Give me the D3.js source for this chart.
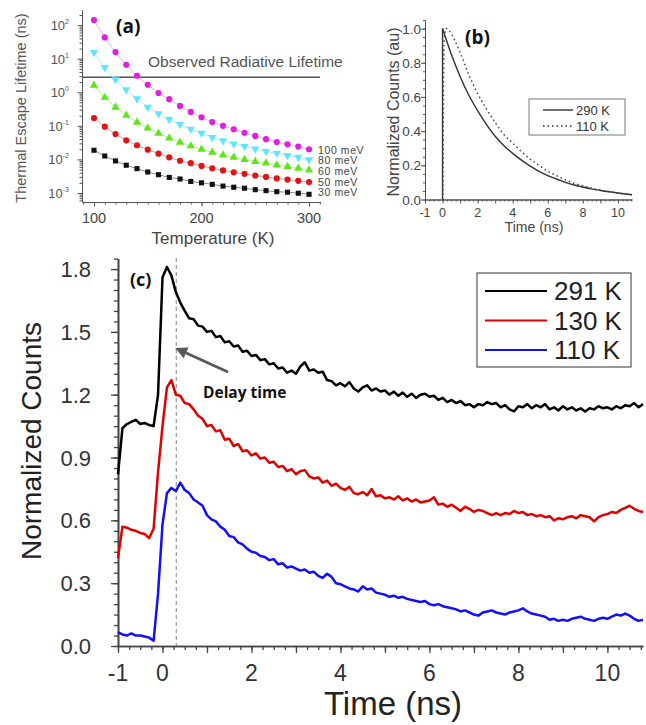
<!DOCTYPE html>
<html>
<head>
<meta charset="UTF-8">
<title>Thermal escape and decay traces</title>
<script src="https://d3js.org/d3.v7.min.js"></script>
<style>
  body { margin: 0; background: #fff; }
  svg text { font-family: "Liberation Sans", Arial, sans-serif; }
  .axis path, .axis line { stroke: #444; }
  .axis text { fill: #333; font-family: "Liberation Sans", Arial, sans-serif; }
  .axis-a path, .axis-a line, .axis-b path, .axis-b line { stroke: #555; }
  .tag { font-family: "Open Sans", "Liberation Sans", sans-serif; font-weight: 700; fill: #111; }
</style>
</head>
<body>
<svg id="fig" width="646" height="725"></svg>
<script>
// ---- panel (a): thermal escape lifetime (ns) vs temperature ----
const tempsK = [100, 110, 120, 130, 140, 150, 160, 170, 180, 190, 200, 210, 220, 230, 240, 250, 260, 270, 280, 290, 300];
const tau100 = [141, 43, 15.7, 6.6, 3.1, 1.67, 0.95, 0.62, 0.39, 0.26, 0.18, 0.13, 0.10, 0.079, 0.062, 0.050, 0.040, 0.033, 0.028, 0.024, 0.020];
const tau80 = [15.4, 5.5, 2.36, 1.19, 0.64, 0.36, 0.23, 0.156, 0.111, 0.080, 0.060, 0.045, 0.036, 0.029, 0.0245, 0.0204, 0.0174, 0.0152, 0.0132, 0.0116, 0.0098];
const tau60 = [1.6, 0.70, 0.356, 0.205, 0.127, 0.086, 0.060, 0.0434, 0.0322, 0.0251, 0.0199, 0.0163, 0.0135, 0.0115, 0.0098, 0.0086, 0.0077, 0.0068, 0.0061, 0.0054, 0.0048];
const tau50 = [0.171, 0.094, 0.057, 0.037, 0.0263, 0.0195, 0.0148, 0.0115, 0.0091, 0.0077, 0.0064, 0.0054, 0.0047, 0.0041, 0.0037, 0.0033, 0.0030, 0.0027, 0.0025, 0.0023, 0.0021];
const tau30 = [0.0187, 0.0126, 0.0090, 0.0067, 0.0053, 0.0042, 0.0035, 0.0029, 0.0026, 0.0022, 0.0020, 0.0018, 0.0016, 0.00148, 0.00138, 0.00125, 0.00117, 0.00109, 0.00105, 0.00098, 0.00091];
const energyLabels = ['100 meV', '80 meV', '60 meV', '50 meV', '30 meV'];
const radiativeLifetime = 2.8;
const decadeExps = [-3, -2, -1, 0, 1, 2];

// ---- panel (b): simulated normalized decays ----
const b290Time = [0, 0, 0.5, 1, 1.5, 2, 2.5, 3, 3.5, 4, 4.5, 5, 5.5, 6, 6.5, 7, 7.5, 8, 8.5, 9, 9.5, 10, 10.8];
const b290Val = [0, 1.0, 0.85, 0.72, 0.61, 0.52, 0.44, 0.37, 0.315, 0.27, 0.23, 0.195, 0.165, 0.14, 0.12, 0.10, 0.085, 0.073, 0.062, 0.053, 0.045, 0.038, 0.028];
const b110Time = [0.02, 0.08, 0.2, 0.4, 0.7, 1, 1.5, 2, 2.5, 3, 3.5, 4, 4.5, 5, 5.5, 6, 6.5, 7, 7.5, 8, 8.5, 9, 9.5, 10, 10.8];
const b110Val = [0, 0.9, 1.0, 0.985, 0.93, 0.86, 0.73, 0.62, 0.53, 0.45, 0.38, 0.33, 0.28, 0.235, 0.2, 0.165, 0.14, 0.115, 0.095, 0.08, 0.066, 0.055, 0.046, 0.038, 0.028];
const bLegend = ['290 K', '110 K'];

// ---- panel (c): measured traces, sampled every 0.1 ns from -1.0 ns ----
const timeNs = d3.range(119).map(i => +(-1 + i * 0.1).toFixed(1));
const counts291 = [
  0.82, 1.04, 1.06, 1.07, 1.08, 1.06, 1.065, 1.055, 1.05, 1.2,
  1.76, 1.81, 1.77, 1.69, 1.64, 1.60, 1.565, 1.56, 1.53, 1.525,
  1.50, 1.505, 1.475, 1.48, 1.45, 1.455, 1.43, 1.435, 1.405, 1.41,
  1.385, 1.39, 1.365, 1.37, 1.345, 1.35, 1.325, 1.33, 1.305, 1.315,
  1.30, 1.335, 1.355, 1.315, 1.32, 1.305, 1.31, 1.27, 1.265, 1.245,
  1.255, 1.24, 1.26, 1.23, 1.215, 1.235, 1.245, 1.22, 1.23, 1.215,
  1.22, 1.20, 1.215, 1.195, 1.21, 1.19, 1.205, 1.185, 1.20, 1.205,
  1.19, 1.195, 1.175, 1.185, 1.165, 1.175, 1.16, 1.17, 1.15, 1.155,
  1.14, 1.155, 1.15, 1.165, 1.155, 1.16, 1.14, 1.15, 1.13, 1.12,
  1.145, 1.14, 1.155, 1.135, 1.15, 1.14, 1.155, 1.13, 1.14, 1.125,
  1.145, 1.13, 1.14, 1.125, 1.135, 1.12, 1.135, 1.13, 1.145, 1.135,
  1.14, 1.13, 1.145, 1.135, 1.15, 1.145, 1.16, 1.14, 1.155
];
const counts130 = [
  0.42, 0.57, 0.565, 0.555, 0.55, 0.54, 0.535, 0.515, 0.56, 0.83,
  1.05, 1.235, 1.27, 1.20, 1.195, 1.16, 1.155, 1.13, 1.10, 1.085,
  1.05, 1.055, 1.025, 1.03, 0.985, 0.99, 0.955, 0.965, 0.93, 0.935,
  0.91, 0.92, 0.895, 0.9, 0.875, 0.88, 0.855, 0.86, 0.835, 0.845,
  0.82, 0.835, 0.84, 0.81, 0.80, 0.805, 0.78, 0.79, 0.765, 0.775,
  0.755, 0.745, 0.76, 0.73, 0.725, 0.735, 0.72, 0.75, 0.715, 0.72,
  0.705, 0.71, 0.70, 0.715, 0.695, 0.705, 0.69, 0.70, 0.685, 0.69,
  0.695, 0.71, 0.675, 0.68, 0.665, 0.675, 0.66, 0.645, 0.665, 0.655,
  0.64, 0.65, 0.645, 0.635, 0.625, 0.635, 0.625, 0.635, 0.63, 0.645,
  0.635, 0.64, 0.625, 0.63, 0.62, 0.625, 0.615, 0.62, 0.60, 0.61,
  0.605, 0.615, 0.62, 0.61, 0.625, 0.62, 0.615, 0.595, 0.615, 0.625,
  0.63, 0.64, 0.635, 0.65, 0.66, 0.67, 0.655, 0.645, 0.64
];
const counts110 = [
  0.065, 0.055, 0.05, 0.06, 0.05, 0.05, 0.045, 0.04, 0.025, 0.25,
  0.58, 0.73, 0.755, 0.74, 0.78, 0.745, 0.73, 0.70, 0.685, 0.67,
  0.625, 0.605, 0.595, 0.57, 0.555, 0.525, 0.52, 0.495, 0.485, 0.465,
  0.45, 0.445, 0.43, 0.425, 0.41, 0.415, 0.39, 0.395, 0.375, 0.38,
  0.37, 0.36, 0.365, 0.35, 0.355, 0.335, 0.325, 0.345, 0.33, 0.30,
  0.295, 0.285, 0.275, 0.27, 0.26, 0.285, 0.27, 0.275, 0.255, 0.25,
  0.245, 0.235, 0.24, 0.23, 0.235, 0.225, 0.22, 0.215, 0.21, 0.215,
  0.20, 0.195, 0.20, 0.19, 0.185, 0.18, 0.175, 0.165, 0.17, 0.16,
  0.15, 0.145, 0.16, 0.165, 0.17, 0.16, 0.155, 0.15, 0.16, 0.165,
  0.17, 0.18, 0.165, 0.155, 0.15, 0.145, 0.14, 0.125, 0.13, 0.12,
  0.125, 0.12, 0.13, 0.135, 0.14, 0.13, 0.125, 0.12, 0.13, 0.135,
  0.13, 0.14, 0.15, 0.145, 0.155, 0.145, 0.13, 0.12, 0.125
];
const cLegend = ['291 K', '130 K', '110 K'];
const delayTime = 0.31;

const svg = d3.select('#fig');

// ================= panel (a) =================
const xA = d3.scaleLinear().domain([88.84, 310.2]).range([82, 320]);
const yA = d3.scaleLog().domain([Math.pow(10, -3.27), Math.pow(10, 2.45)]).range([202, 10]);
const gA = svg.append('g');

const minorA = [];
decadeExps.concat([-4]).forEach(e => { for (let m = 2; m <= 9; m++) { const v = m * Math.pow(10, e); if (v > yA.domain()[0] && v < yA.domain()[1]) minorA.push(v); } });

gA.append('g').attr('class', 'axis-a').attr('transform', 'translate(82,0)')
  .call(d3.axisLeft(yA).tickValues(minorA).tickSize(2.5).tickSizeOuter(0).tickFormat(''));
gA.append('g').attr('class', 'axis-a').attr('transform', 'translate(82,0)')
  .call(d3.axisLeft(yA).tickValues(decadeExps.map(e => Math.pow(10, e))).tickSize(4.5).tickSizeOuter(0).tickFormat(''));
gA.append('g').attr('class', 'axis-a').attr('transform', 'translate(0,202)')
  .call(d3.axisBottom(xA).tickValues(d3.range(90, 311, 10)).tickSize(2.5).tickSizeOuter(0).tickFormat(''));
gA.append('g').attr('class', 'axis-a').attr('transform', 'translate(0,202)')
  .call(d3.axisBottom(xA).tickValues([100, 200, 300]).tickSize(4.5).tickSizeOuter(0).tickFormat(''));

decadeExps.forEach(e => {
  const t = gA.append('text').attr('x', 69).attr('y', yA(Math.pow(10, e)) + 5)
    .attr('text-anchor', 'end').attr('fill', '#555').attr('font-size', 13);
  t.append('tspan').text('10');
  t.append('tspan').attr('dy', -6).attr('font-size', 7).text(e);
});
[100, 200, 300].forEach(v => {
  gA.append('text').attr('x', xA(v)).attr('y', 223).attr('text-anchor', 'middle')
    .attr('fill', '#444').attr('font-size', 14.5).text(v);
});
gA.append('text').attr('x', 213).attr('y', 244).attr('text-anchor', 'middle')
  .attr('fill', '#444').attr('font-size', 17).text('Temperature (K)');
gA.append('text').attr('transform', 'translate(26,108) rotate(-90)').attr('text-anchor', 'middle')
  .attr('fill', '#555').attr('font-size', 14.5).text('Thermal Escape Lifetime (ns)');

gA.append('line').attr('x1', 82).attr('x2', 320)
  .attr('y1', yA(radiativeLifetime)).attr('y2', yA(radiativeLifetime))
  .attr('stroke', '#555').attr('stroke-width', 1.4);
gA.append('text').attr('x', 148).attr('y', 67).attr('fill', '#555').attr('font-size', 15.5)
  .text('Observed Radiative Lifetime');

const seriesA = [
  { vals: tau100, mark: '#e01ee0', line: '#f2a6f2', sym: d3.symbolCircle, size: 30, rot: 0 },
  { vals: tau80, mark: '#5ee6ff', line: '#a6f0ff', sym: d3.symbolTriangle, size: 30, rot: 180 },
  { vals: tau60, mark: '#5ee61a', line: '#aaf08a', sym: d3.symbolTriangle, size: 30, rot: 0 },
  { vals: tau50, mark: '#e01414', line: '#f09696', sym: d3.symbolCircle, size: 30, rot: 0 },
  { vals: tau30, mark: '#111111', line: '#8a8a8a', sym: d3.symbolSquare, size: 26, rot: 0 }
];
const lineA = d3.line().x(d => xA(d[0])).y(d => yA(d[1])).curve(d3.curveMonotoneX);
seriesA.forEach(s => {
  const pts = tempsK.map((t, i) => [t, s.vals[i]]);
  gA.append('path').attr('d', lineA(pts)).attr('fill', 'none')
    .attr('stroke', s.line).attr('stroke-width', 1);
  gA.selectAll(null).data(pts).enter().append('path')
    .attr('d', d3.symbol().type(s.sym).size(s.size))
    .attr('transform', d => `translate(${xA(d[0])},${yA(d[1])}) rotate(${s.rot})`)
    .attr('fill', s.mark);
});
const labelY = [150, 160.7, 171.4, 182.1, 192.8];
energyLabels.forEach((lab, i) => {
  gA.append('text').attr('x', 318).attr('y', labelY[i] + 3.5).attr('fill', '#444')
    .attr('font-size', 10.5).attr('letter-spacing', 0.6).text(lab);
});
gA.append('text').attr('class', 'tag').attr('x', 116).attr('y', 33).attr('font-size', 19).text('(a)');

// ================= panel (b) =================
const xB = d3.scaleLinear().domain([-1, 10.8]).range([425, 632]);
const yB = d3.scaleLinear().domain([0, 1.05]).range([199.5, 20]);
const gB = svg.append('g');

gB.append('g').attr('class', 'axis-b').attr('transform', 'translate(425,0)')
  .call(d3.axisLeft(yB).tickValues(d3.range(0, 1.051, 0.05)).tickSize(2).tickSizeOuter(0).tickFormat(''));
gB.append('g').attr('class', 'axis-b').attr('transform', 'translate(425,0)')
  .call(d3.axisLeft(yB).tickValues([0, 0.2, 0.4, 0.6, 0.8, 1.0]).tickSize(4).tickSizeOuter(0).tickFormat(''));
gB.append('g').attr('class', 'axis-b').attr('transform', 'translate(0,199.5)')
  .call(d3.axisBottom(xB).tickValues(d3.range(-1, 10.81, 0.25)).tickSize(2).tickSizeOuter(0).tickFormat(''));
gB.append('g').attr('class', 'axis-b').attr('transform', 'translate(0,199.5)')
  .call(d3.axisBottom(xB).tickValues(d3.range(-1, 11, 1)).tickSize(4).tickSizeOuter(0).tickFormat(''));

[0, 0.2, 0.4, 0.6, 0.8, 1.0].forEach(v => {
  gB.append('text').attr('x', 421).attr('y', yB(v) + 5).attr('text-anchor', 'end')
    .attr('fill', '#444').attr('font-size', 13.5).text(v.toFixed(1));
});
[-1, 0, 2, 4, 6, 8, 10].forEach(v => {
  gB.append('text').attr('x', xB(v)).attr('y', 217).attr('text-anchor', 'middle')
    .attr('fill', '#444').attr('font-size', 12.5).text(v);
});
gB.append('text').attr('x', 534).attr('y', 232).attr('text-anchor', 'middle')
  .attr('fill', '#444').attr('font-size', 14).text('Time (ns)');
gB.append('text').attr('transform', 'translate(399,112) rotate(-90)').attr('text-anchor', 'middle')
  .attr('fill', '#444').attr('font-size', 16).text('Normalized Counts (au)');

const lineB = d3.line().x(d => xB(d[0])).y(d => yB(d[1]));
gB.append('path').attr('d', lineB(b290Time.map((t, i) => [t, b290Val[i]]).slice(0, 2)))
  .attr('fill', 'none').attr('stroke', '#333').attr('stroke-width', 1.4);
gB.append('path').attr('d', lineB.curve(d3.curveMonotoneX)(b290Time.map((t, i) => [t, b290Val[i]]).slice(1)))
  .attr('fill', 'none').attr('stroke', '#333').attr('stroke-width', 1.4);
gB.append('path').attr('d', lineB.curve(d3.curveMonotoneX)(b110Time.map((t, i) => [t, b110Val[i]])))
  .attr('fill', 'none').attr('stroke', '#444').attr('stroke-width', 1.5).attr('stroke-dasharray', '1.5,3');

gB.append('rect').attr('x', 529).attr('y', 99).attr('width', 96).attr('height', 36)
  .attr('fill', '#fff').attr('stroke', '#777').attr('stroke-width', 1);
bLegend.forEach((lab, i) => {
  const y = 110 + i * 16;
  gB.append('line').attr('x1', 543).attr('x2', 573).attr('y1', y).attr('y2', y)
    .attr('stroke', '#333').attr('stroke-width', 1.4)
    .attr('stroke-dasharray', i === 1 ? '1.5,3' : null);
  gB.append('text').attr('x', 576).attr('y', y + 5).attr('fill', '#333').attr('font-size', 13).text(lab);
});
gB.append('text').attr('class', 'tag').attr('x', 465).attr('y', 44).attr('font-size', 19).text('(b)');

// ================= panel (c) =================
const xC = d3.scaleLinear().domain([-1, 10.8]).range([118, 643]);
const yC = d3.scaleLinear().domain([0, 1.85]).range([646, 258.6]);
const gC = svg.append('g');

gC.append('line').attr('x1', xC(delayTime)).attr('x2', xC(delayTime)).attr('y1', 258).attr('y2', 646)
  .attr('stroke', '#9a9a9a').attr('stroke-width', 1.2).attr('stroke-dasharray', '4,3');

gC.append('g').attr('class', 'axis').attr('transform', 'translate(118,0)')
  .call(d3.axisLeft(yC).tickValues(d3.range(0, 1.851, 0.05)).tickSize(4).tickSizeOuter(0).tickFormat(''));
gC.append('g').attr('class', 'axis').attr('transform', 'translate(118,0)')
  .call(d3.axisLeft(yC).tickValues([0, 0.3, 0.6, 0.9, 1.2, 1.5, 1.8]).tickSize(7).tickSizeOuter(0).tickFormat(''));
gC.append('g').attr('class', 'axis').attr('transform', 'translate(0,646)')
  .call(d3.axisBottom(xC).tickValues(d3.range(-1, 10.81, 0.25)).tickSize(4).tickSizeOuter(0).tickFormat(''));
gC.append('g').attr('class', 'axis').attr('transform', 'translate(0,646)')
  .call(d3.axisBottom(xC).tickValues(d3.range(-1, 11, 1)).tickSize(7).tickSizeOuter(0).tickFormat(''));
gC.selectAll('.axis path').attr('stroke-width', 1.6);
gC.selectAll('.axis line').attr('stroke-width', 1.3);

[0, 0.3, 0.6, 0.9, 1.2, 1.5, 1.8].forEach(v => {
  gC.append('text').attr('x', 91).attr('y', yC(v) + 8).attr('text-anchor', 'end')
    .attr('fill', '#333').attr('font-size', 22).text(v.toFixed(1));
});
[-1, 0, 2, 4, 6, 8, 10].forEach(v => {
  gC.append('text').attr('x', xC(v)).attr('y', 681).attr('text-anchor', 'middle')
    .attr('fill', '#333').attr('font-size', 23).text(v);
});
gC.append('text').attr('x', 393).attr('y', 715).attr('text-anchor', 'middle')
  .attr('fill', '#222').attr('font-size', 33).text('Time (ns)');
gC.append('text').attr('transform', 'translate(41,441) rotate(-90)').attr('text-anchor', 'middle')
  .attr('fill', '#222').attr('font-size', 28).text('Normalized Counts');

const lineC = d3.line().x(d => xC(d[0])).y(d => yC(d[1]));
const seriesC = [
  { vals: counts291, color: '#000000' },
  { vals: counts130, color: '#e00000' },
  { vals: counts110, color: '#1010ff' }
];
seriesC.forEach(s => {
  gC.append('path').attr('d', lineC(timeNs.map((t, i) => [t, s.vals[i]])))
    .attr('fill', 'none').attr('stroke', s.color).attr('stroke-width', 2.5)
    .attr('stroke-linejoin', 'round');
});

gC.append('rect').attr('x', 477).attr('y', 273).attr('width', 154).attr('height', 94)
  .attr('fill', '#fff').attr('stroke', '#555').attr('stroke-width', 1.2);
cLegend.forEach((lab, i) => {
  const y = 291 + i * 29.5;
  gC.append('line').attr('x1', 485).attr('x2', 547).attr('y1', y).attr('y2', y)
    .attr('stroke', seriesC[i].color).attr('stroke-width', 2.2);
  gC.append('text').attr('x', 554).attr('y', y + 9).attr('fill', '#222').attr('font-size', 26).text(lab);
});

// arrow pointing at the delay line
const defs = svg.append('defs');
defs.append('marker').attr('id', 'arrowhead').attr('viewBox', '0 0 10 10')
  .attr('refX', 2).attr('refY', 5).attr('markerWidth', 4).attr('markerHeight', 4)
  .attr('orient', 'auto-start-reverse')
  .append('path').attr('d', 'M0,0 L10,5 L0,10 z').attr('fill', '#595959');
gC.append('line').attr('x1', 228).attr('y1', 372).attr('x2', 184).attr('y2', 352)
  .attr('stroke', '#595959').attr('stroke-width', 3).attr('marker-end', 'url(#arrowhead)');
gC.append('text').attr('class', 'tag').attr('x', 203).attr('y', 398).attr('font-size', 15.5).text('Delay time');
gC.append('text').attr('class', 'tag').attr('x', 130).attr('y', 286).attr('font-size', 18).text('(c)');
</script>
</body>
</html>
